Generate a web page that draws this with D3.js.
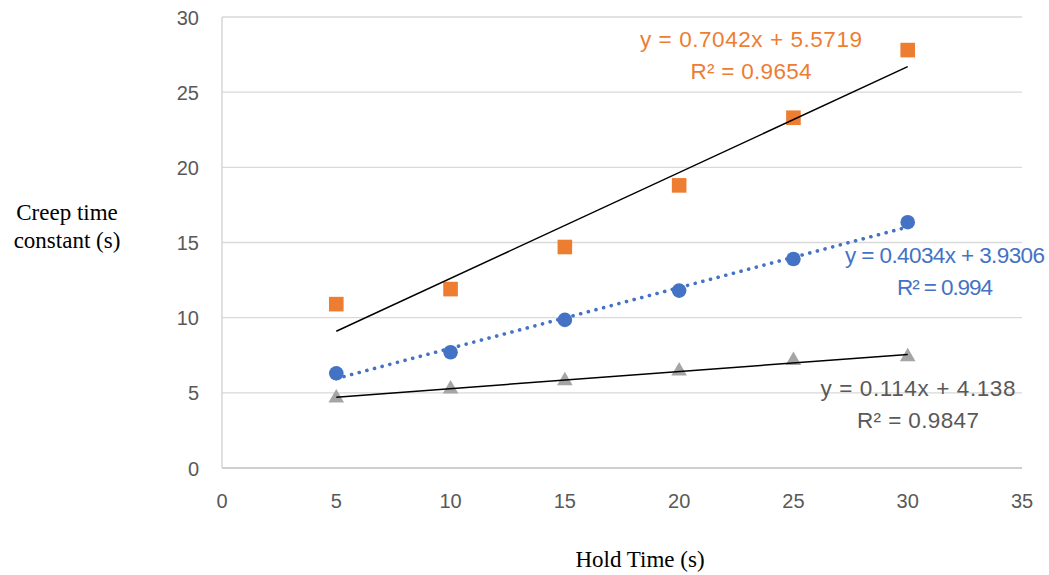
<!DOCTYPE html>
<html>
<head>
<meta charset="utf-8">
<script src="https://cdn.jsdelivr.net/npm/d3@7"></script>
<style>
  body { margin: 0; background: #fff; }
  svg text { font-family: "Liberation Sans", Arial, sans-serif; }
</style>
</head>
<body>
<script>
// hold times and the three measured series
const holdTimes = [5, 10, 15, 20, 25, 30];
const orangeVals = [10.9, 11.9, 14.7, 18.8, 23.3, 27.8];
const blueVals = [6.3, 7.7, 9.85, 11.8, 13.9, 16.35];
const grayVals = [4.65, 5.25, 5.8, 6.45, 7.15, 7.4];

// trendline fits (slope, intercept) and their labels
const orangeFit = [0.7042, 5.5719];
const blueFit = [0.4034, 3.9306];
const grayFit = [0.114, 4.138];
const orangeLabel = ["y = 0.7042x + 5.5719", "R\u00b2 = 0.9654"];
const blueLabel = ["y = 0.4034x + 3.9306", "R\u00b2 = 0.994"];
const grayLabel = ["y = 0.114x + 4.138", "R\u00b2 = 0.9847"];

const xTicks = [0, 5, 10, 15, 20, 25, 30, 35];
const yTicks = [0, 5, 10, 15, 20, 25, 30];

const width = 1049, height = 575;

const x = d3.scaleLinear().domain([0, 35]).range([222, 1022]);
const y = d3.scaleLinear().domain([0, 30]).range([468, 17]);

const svg = d3.select("body").append("svg")
    .attr("width", width)
    .attr("height", height);

// gridlines
svg.selectAll("line.grid")
    .data(yTicks)
    .enter().append("line")
    .attr("class", "grid")
    .attr("x1", x(0)).attr("x2", x(35))
    .attr("y1", d => y(d)).attr("y2", d => y(d))
    .attr("stroke", "#d9d9d9")
    .attr("stroke-width", 1.3);

// axis lines
svg.append("line")
    .attr("x1", x(0)).attr("x2", x(0))
    .attr("y1", y(0)).attr("y2", y(30))
    .attr("stroke", "#d0d0d0").attr("stroke-width", 1.3);
svg.append("line")
    .attr("x1", x(0)).attr("x2", x(35))
    .attr("y1", y(0)).attr("y2", y(0))
    .attr("stroke", "#c8c8c8").attr("stroke-width", 1.5);

// tick labels
svg.selectAll("text.ytick")
    .data(yTicks)
    .enter().append("text")
    .attr("class", "ytick")
    .attr("x", 199)
    .attr("y", d => y(d))
    .attr("dy", "0.38em")
    .attr("text-anchor", "end")
    .attr("font-size", 20)
    .attr("fill", "#595959")
    .text(d => d);

svg.selectAll("text.xtick")
    .data(xTicks)
    .enter().append("text")
    .attr("class", "xtick")
    .attr("x", d => x(d))
    .attr("y", 508)
    .attr("text-anchor", "middle")
    .attr("font-size", 20)
    .attr("fill", "#595959")
    .text(d => d);

// trendlines
function trend(fit, color, dash, w) {
    svg.append("line")
        .attr("x1", x(5)).attr("y1", y(fit[0] * 5 + fit[1]))
        .attr("x2", x(30)).attr("y2", y(fit[0] * 30 + fit[1]))
        .attr("stroke", color)
        .attr("stroke-width", w)
        .attr("stroke-dasharray", dash)
        .attr("stroke-linecap", dash ? "round" : "butt");
}

// markers
svg.selectAll("rect.orange")
    .data(holdTimes)
    .enter().append("rect")
    .attr("class", "orange")
    .attr("x", (d, i) => x(d) - 7.3)
    .attr("y", (d, i) => y(orangeVals[i]) - 7.3)
    .attr("width", 14.6).attr("height", 14.6)
    .attr("fill", "#ed7d31");

svg.selectAll("circle.blue")
    .data(holdTimes)
    .enter().append("circle")
    .attr("class", "blue")
    .attr("cx", d => x(d))
    .attr("cy", (d, i) => y(blueVals[i]))
    .attr("r", 7.3)
    .attr("fill", "#4472c4");

const tri = d3.symbol().type(d3.symbolTriangle).size(105);
svg.selectAll("path.gray")
    .data(holdTimes)
    .enter().append("path")
    .attr("class", "gray")
    .attr("transform", (d, i) => "translate(" + x(d) + "," + y(grayVals[i]) + ")")
    .attr("d", tri)
    .attr("fill", "#a5a5a5");

trend(orangeFit, "#000", null, 1.5);
trend(blueFit, "#4472c4", "0.1,7.8", 3.6);
trend(grayFit, "#000", null, 1.5);

// equation labels (widths stretched to the Calibri look of the original)
function label(lines, widths, cx, cy, color) {
    svg.selectAll(null)
        .data(lines)
        .enter().append("text")
        .attr("x", cx)
        .attr("y", (d, i) => cy + i * 31.5)
        .attr("text-anchor", "middle")
        .attr("font-size", 22.5)
        .attr("fill", color)
        .attr("textLength", (d, i) => widths[i])
        .attr("lengthAdjust", "spacing")
        .text(d => d);
}
label(orangeLabel, [222, 121], 751, 47, "#ed7d31");
label(blueLabel, [200, 96], 945, 263, "#4472c4");
label(grayLabel, [195, 122], 918, 396, "#595959");

// axis titles
svg.selectAll("text.ytitle")
    .data(["Creep time", "constant (s)"])
    .enter().append("text")
    .attr("class", "ytitle")
    .attr("x", 67)
    .attr("y", (d, i) => 220 + i * 28)
    .attr("text-anchor", "middle")
    .attr("font-size", 23)
    .style("font-family", "'Liberation Serif', 'Times New Roman', serif")
    .attr("fill", "#000")
    .text(d => d);

svg.append("text")
    .attr("x", 640)
    .attr("y", 567)
    .attr("text-anchor", "middle")
    .attr("font-size", 23)
    .style("font-family", "'Liberation Serif', 'Times New Roman', serif")
    .attr("fill", "#000")
    .text("Hold Time (s)");
</script>
</body>
</html>
